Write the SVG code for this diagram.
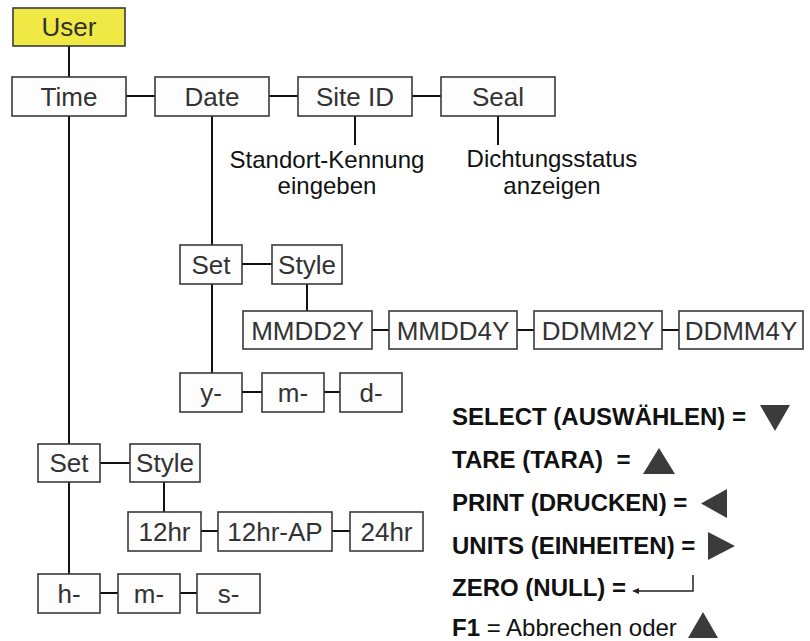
<svg xmlns="http://www.w3.org/2000/svg" width="810" height="641" viewBox="0 0 810 641">
<style>
.b{fill:#fdfdfd;stroke:#3a3a3a;stroke-width:1.6}
.t{font-family:"Liberation Sans",Arial,sans-serif;font-size:26px;fill:#333;text-anchor:middle}
.a{font-family:"Liberation Sans",Arial,sans-serif;font-size:24px;fill:#111;text-anchor:middle}
.l{font-family:"Liberation Sans",Arial,sans-serif;font-size:24px;fill:#111;font-weight:bold}
.c line{stroke:#111;stroke-width:2}
.tri{fill:#3b3b3b}
</style>
<g class="c" id="connectors">
<line x1="69" y1="46" x2="69" y2="77"/>
<line x1="126" y1="96" x2="155" y2="96"/>
<line x1="269" y1="96" x2="298" y2="96"/>
<line x1="412" y1="96" x2="441" y2="96"/>
<line x1="355" y1="116" x2="355" y2="145"/>
<line x1="498" y1="116" x2="498" y2="145"/>
<line x1="69" y1="116" x2="69" y2="444"/>
<line x1="69" y1="482" x2="69" y2="574"/>
<line x1="212" y1="116" x2="212" y2="245"/>
<line x1="212" y1="284" x2="212" y2="373"/>
<line x1="242" y1="264" x2="272" y2="264"/>
<line x1="307" y1="284" x2="307" y2="311"/>
<line x1="372" y1="330" x2="389" y2="330"/>
<line x1="517" y1="330" x2="534" y2="330"/>
<line x1="662" y1="330" x2="679" y2="330"/>
<line x1="242" y1="392" x2="262" y2="392"/>
<line x1="324" y1="392" x2="340" y2="392"/>
<line x1="100" y1="463" x2="130" y2="463"/>
<line x1="164" y1="482" x2="164" y2="512"/>
<line x1="201" y1="531" x2="218" y2="531"/>
<line x1="332" y1="531" x2="350" y2="531"/>
<line x1="100" y1="593" x2="118" y2="593"/>
<line x1="180" y1="593" x2="197" y2="593"/>
</g>
<g id="user"><rect x="13" y="8" width="112" height="38" fill="#f0e845" stroke="#3a3a3a" stroke-width="1.6"/><text class="t" x="69" y="36">User</text></g>
<g id="time"><rect class="b" x="12" y="77" width="114" height="39"/><text class="t" x="69" y="105.5">Time</text></g>
<g id="date"><rect class="b" x="155" y="77" width="114" height="39"/><text class="t" x="212" y="105.5">Date</text></g>
<g id="siteid"><rect class="b" x="298" y="77" width="114" height="39"/><text class="t" x="355" y="105.5">Site ID</text></g>
<g id="seal"><rect class="b" x="441" y="77" width="114" height="39"/><text class="t" x="498" y="105.5">Seal</text></g>
<g id="siteid-note"><text class="a" x="327" y="168">Standort-Kennung</text><text class="a" x="327" y="194">eingeben</text></g>
<g id="seal-note"><text class="a" x="552" y="167">Dichtungsstatus</text><text class="a" x="552" y="194">anzeigen</text></g>
<g id="date-set"><rect class="b" x="180" y="245" width="62" height="39"/><text class="t" x="211" y="273.5">Set</text></g>
<g id="date-style"><rect class="b" x="272" y="245" width="70" height="39"/><text class="t" x="307" y="273.5">Style</text></g>
<g id="mmdd2y"><rect class="b" x="243" y="311" width="129" height="38"/><text class="t" x="307.5" y="339.5">MMDD2Y</text></g>
<g id="mmdd4y"><rect class="b" x="389" y="311" width="128" height="38"/><text class="t" x="453" y="339.5">MMDD4Y</text></g>
<g id="ddmm2y"><rect class="b" x="534" y="311" width="128" height="38"/><text class="t" x="598" y="339.5">DDMM2Y</text></g>
<g id="ddmm4y"><rect class="b" x="679" y="311" width="124" height="38"/><text class="t" x="741" y="339.5">DDMM4Y</text></g>
<g id="date-y"><rect class="b" x="180" y="373" width="62" height="39"/><text class="t" x="211" y="401.5">y-</text></g>
<g id="date-m"><rect class="b" x="262" y="373" width="62" height="39"/><text class="t" x="293" y="401.5">m-</text></g>
<g id="date-d"><rect class="b" x="340" y="373" width="62" height="39"/><text class="t" x="371" y="401.5">d-</text></g>
<g id="time-set"><rect class="b" x="38" y="444" width="62" height="38"/><text class="t" x="69" y="472">Set</text></g>
<g id="time-style"><rect class="b" x="130" y="444" width="70" height="38"/><text class="t" x="165" y="472">Style</text></g>
<g id="h12"><rect class="b" x="128" y="512" width="73" height="39"/><text class="t" x="164.5" y="540.5">12hr</text></g>
<g id="h12ap"><rect class="b" x="218" y="512" width="114" height="39"/><text class="t" x="275" y="540.5">12hr-AP</text></g>
<g id="h24"><rect class="b" x="350" y="512" width="73" height="39"/><text class="t" x="386.5" y="540.5">24hr</text></g>
<g id="time-h"><rect class="b" x="38" y="574" width="62" height="39"/><text class="t" x="69" y="602.5">h-</text></g>
<g id="time-m"><rect class="b" x="118" y="574" width="62" height="39"/><text class="t" x="149" y="602.5">m-</text></g>
<g id="time-s"><rect class="b" x="197" y="574" width="63" height="39"/><text class="t" x="228.5" y="602.5">s-</text></g>
<g id="legend">
<text class="l" x="452" y="425">SELECT (AUSWÄHLEN) =</text>
<polygon class="tri" points="760,405 790,405 775,431"/>
<text class="l" x="452" y="468" xml:space="preserve">TARE (TARA)  =</text>
<polygon class="tri" points="643,474 675,474 659,448"/>
<text class="l" x="452" y="511">PRINT (DRUCKEN) =</text>
<polygon class="tri" points="727,489 727,518 701,503.5"/>
<text class="l" x="452" y="554">UNITS (EINHEITEN) =</text>
<polygon class="tri" points="708,532 708,560 735,546"/>
<text class="l" x="452" y="596">ZERO (NULL) =</text>
<polyline points="693,575 693,591 637,591" fill="none" stroke="#222" stroke-width="1.5"/>
<polygon points="632,591 639,588 639,594" fill="#222"/>
<text class="l" x="452" y="636"><tspan>F1</tspan><tspan font-weight="normal"> = Abbrechen oder</tspan></text>
<polygon class="tri" points="688,638 718,638 703,612"/>
</g>
</svg>
